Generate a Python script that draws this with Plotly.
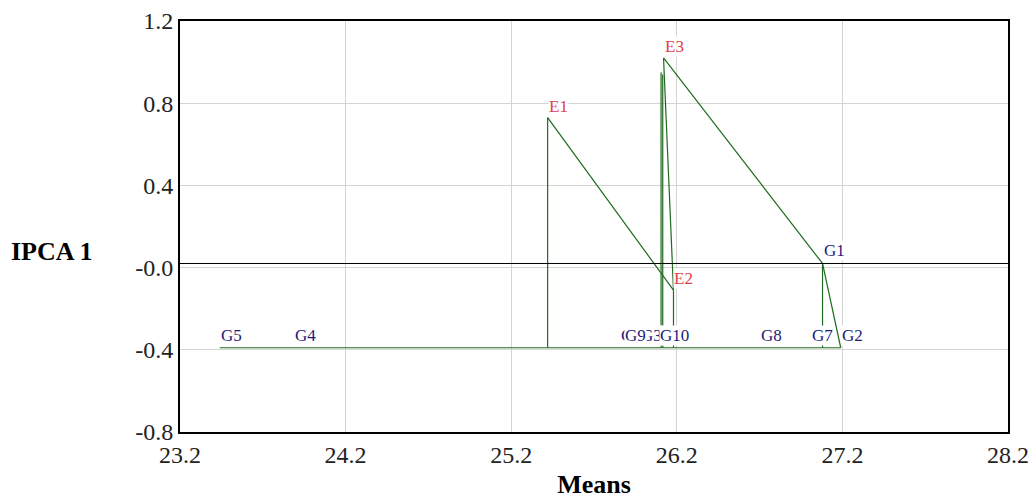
import plotly.graph_objects as go

# ---- data ----
genotype_names = ["G5", "G4", "G6", "G3", "G9", "G10", "G8", "G7", "G2", "G1"]
genotype_means = [23.44, 23.89, 25.855, 25.98, 25.88, 26.09, 26.70, 27.01, 27.19, 27.08]
genotype_ipca1 = [-0.39, -0.39, -0.39, -0.39, -0.39, -0.39, -0.39, -0.39, -0.39, 0.02]

env_names = ["E1", "E2", "E3"]
env_means = [25.42, 26.18, 26.12]
env_ipca1 = [0.73, -0.11, 1.02]

# connecting line vertices (None separates segments)
line_x = [23.44, 27.19, None,
          25.42, 25.42, None,
          25.42, 26.18, None,
          26.18, 26.18, None,
          26.105, 26.105, None,
          26.115, 26.115, None,
          26.12, 26.18, None,
          26.12, 27.08, None,
          27.08, 27.08, None,
          27.08, 27.19]
line_y = [-0.39, -0.39, None,
          0.73, -0.39, None,
          0.73, -0.11, None,
          -0.11, -0.39, None,
          0.95, -0.39, None,
          0.94, -0.39, None,
          1.02, -0.11, None,
          1.02, 0.02, None,
          0.02, -0.39, None,
          0.02, -0.39]

reference_y = 0.02
x_ticks = [23.2, 24.2, 25.2, 26.2, 27.2, 28.2]
y_ticks = [-0.8, -0.4, 0.0, 0.4, 0.8, 1.2]
y_ticktext = ["-0.8", "-0.4", "-0.0", "0.4", "0.8", "1.2"]

SERIF = "Liberation Serif"
GREEN = "#1f6a1f"
NAVY = "#1c1c78"
RED = "#e0404a"

fig = go.Figure()
fig.add_trace(go.Scatter(x=line_x, y=line_y, mode="lines",
                         line=dict(color=GREEN, width=1.2),
                         hoverinfo="skip", showlegend=False))
fig.add_hline(y=reference_y, line=dict(color="black", width=1))

for n, x, y in zip(genotype_names, genotype_means, genotype_ipca1):
    fig.add_annotation(x=x, y=y, text=n, showarrow=False, xanchor="left",
                       yanchor="bottom", yshift=2, bgcolor="white", borderpad=0,
                       font=dict(family=SERIF, size=17, color=NAVY))
for n, x, y in zip(env_names, env_means, env_ipca1):
    fig.add_annotation(x=x, y=y, text=n, showarrow=False, xanchor="left",
                       yanchor="bottom", yshift=1, bgcolor="white", borderpad=0,
                       font=dict(family=SERIF, size=17, color=RED))

fig.add_annotation(xref="paper", yref="paper", x=-0.206, y=0.44, text="<b>IPCA 1</b>",
                   showarrow=False, xanchor="left", yanchor="middle",
                   font=dict(family=SERIF, size=26, color="black"))

fig.update_xaxes(range=[23.2, 28.2], tickvals=x_ticks,
                 ticktext=[f"{v:.1f}" for v in x_ticks], automargin=False,
                 ticklabeloverflow="allow",
                 showgrid=True, gridcolor="#d4d4d4", gridwidth=1,
                 showline=True, linecolor="black", linewidth=2, mirror=True,
                 zeroline=False, ticks="", ticklen=0,
                 tickfont=dict(family=SERIF, size=24, color="#222"),
                 title=dict(text="<b>Means</b>", standoff=10,
                            font=dict(family=SERIF, size=26, color="black")))
fig.update_yaxes(range=[-0.8, 1.2], tickvals=y_ticks, ticktext=y_ticktext,
                 automargin=False, ticklabeloverflow="allow",
                 showgrid=True, gridcolor="#d4d4d4", gridwidth=1,
                 showline=True, linecolor="black", linewidth=2, mirror=True,
                 zeroline=False, ticks="", ticklen=0,
                 tickfont=dict(family=SERIF, size=24, color="#222"))

fig.update_layout(width=1028, height=491, plot_bgcolor="white", paper_bgcolor="white",
                  font=dict(family=SERIF),
                  margin=dict(l=172, r=28, t=13, b=67), showlegend=False)

fig.write_html("out.html")
